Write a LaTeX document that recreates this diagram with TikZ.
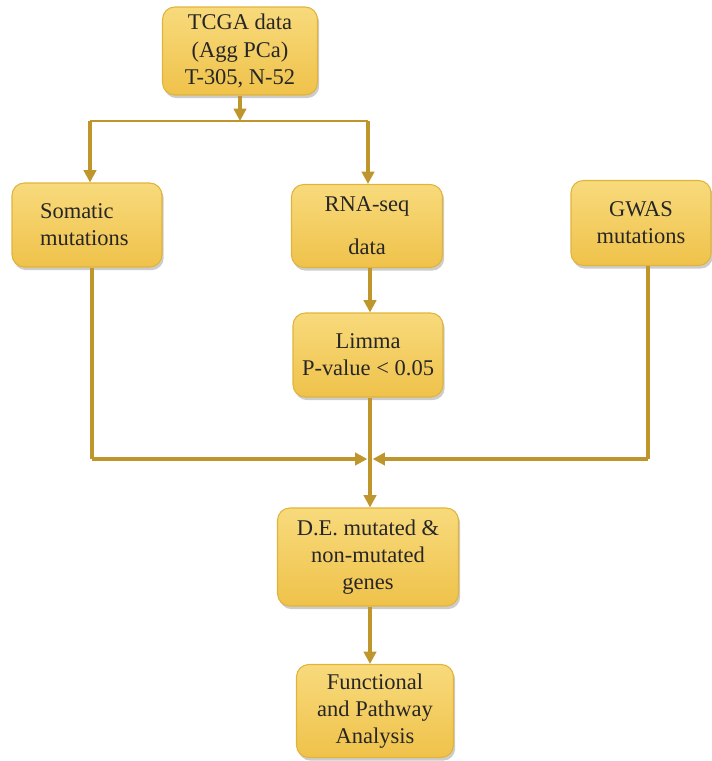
\documentclass[tikz,border=0pt]{standalone}
\usepackage{fontspec}
\setmainfont{Liberation Serif}
\usepackage{tikz}
\usetikzlibrary{arrows.meta,shadows}

\definecolor{boxtop}{HTML}{F8DA7C}
\definecolor{boxbot}{HTML}{EFC24A}
\definecolor{boxedge}{HTML}{E0B43A}
\definecolor{flowline}{HTML}{BF962C}

\begin{document}
\begin{tikzpicture}[x=0.02cm, y=-0.02cm, >={Triangle[length=7pt,width=7pt]},
  box/.style={draw=boxedge, line width=0.6pt, rounded corners=7pt, top color=boxtop, bottom color=boxbot,
    drop shadow={shadow xshift=1pt, shadow yshift=-1.8pt, opacity=0.4},
    align=center, inner sep=0pt, font=\fontsize{12.8}{15.5}\selectfont, text=black!85},
  flow/.style={draw=flowline, line width=1.8pt},
  every node/.style={font=\small}]
  \useasboundingbox (0,0) rectangle (711,761);

  \node[box, minimum width=3.1cm, minimum height=1.76cm] (tcga) at (240,51) {TCGA data\\(Agg PCa)\\T-305, N-52};

  \node[box, minimum width=3cm, minimum height=1.68cm, text width=2.44cm, align=left] (somatic) at (87,225) {\hspace*{0.28cm}Somatic\\\hspace*{0.28cm}mutations};
  \node[box, minimum width=3.02cm, minimum height=1.66cm] (rnaseq) at (367,226) {RNA-seq\\[9pt]data};
  \node[box, minimum width=2.8cm, minimum height=1.7cm] (gwas) at (641,223) {GWAS\\mutations};

  \node[box, minimum width=3cm, minimum height=1.68cm] (limma) at (368,355) {Limma\\P-value < 0.05};
  \node[box, minimum width=3.62cm, minimum height=1.96cm] (degenes) at (368,557) {D.E. mutated \&\\non-mutated\\genes};
  \node[box, minimum width=3.14cm, minimum height=1.86cm] (pathway) at (375,711) {Functional\\and Pathway\\Analysis};

  \coordinate (split) at (240,121);
  \coordinate (splitL) at (90,121);
  \coordinate (splitR) at (368,121);
  \coordinate (joinL) at (92,459);
  \coordinate (joinR) at (648,459);
  \coordinate (join) at (370,459);

  \draw[flow, ->] (tcga.south) -- (split);
  \draw[flow, line width=0.8pt] (splitL) -- (splitR);
  \draw[flow, ->] (splitL) -- (splitL |- somatic.north);
  \draw[flow, ->] (splitR) -- (splitR |- rnaseq.north);
  \draw[flow, ->] (rnaseq.south -| 370,0) -- (limma.north -| 370,0);

  \draw[flow] (somatic.south -| joinL) -- (joinL);
  \draw[flow, ->] (joinL) -- ([xshift=-1.5pt]join);
  \draw[flow] (gwas.south -| joinR) -- (joinR);
  \draw[flow, ->] (joinR) -- ([xshift=1.5pt]join);

  \draw[flow, ->] (limma.south -| 370,0) -- (degenes.north -| 370,0);
  \draw[flow, ->] (degenes.south -| 370,0) -- (pathway.north -| 370,0);
\end{tikzpicture}
\end{document}
